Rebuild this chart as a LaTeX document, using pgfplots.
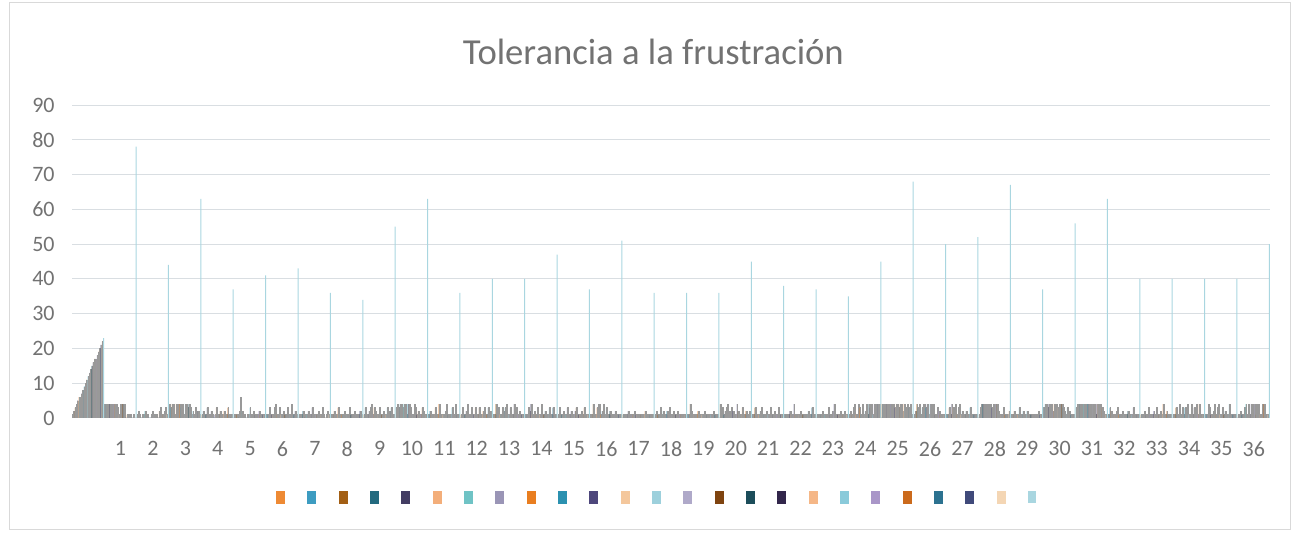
\documentclass[border=0pt]{standalone}
\usepackage{fontspec}
\setmainfont{Carlito}
\usepackage{pgfplots}
\usepackage{pgfplotstable}
\pgfplotsset{compat=1.18}
\definecolor{c1}{HTML}{EE8A34}
\definecolor{c2}{HTML}{3D9CC1}
\definecolor{c3}{HTML}{A35F14}
\definecolor{c4}{HTML}{236A7F}
\definecolor{c5}{HTML}{433D63}
\definecolor{c6}{HTML}{F3AE7A}
\definecolor{c7}{HTML}{6FC3C5}
\definecolor{c8}{HTML}{9A95B6}
\definecolor{c9}{HTML}{E97E20}
\definecolor{c10}{HTML}{2B91B0}
\definecolor{c11}{HTML}{4E477C}
\definecolor{c12}{HTML}{F4C79C}
\definecolor{c13}{HTML}{9DD0DC}
\definecolor{c14}{HTML}{AFA9C9}
\definecolor{c15}{HTML}{7F4410}
\definecolor{c16}{HTML}{1C4D5A}
\definecolor{c17}{HTML}{32264B}
\definecolor{c18}{HTML}{F5B787}
\definecolor{c19}{HTML}{8ACADA}
\definecolor{c20}{HTML}{A996C8}
\definecolor{c21}{HTML}{CB6A1C}
\definecolor{c22}{HTML}{2C7290}
\definecolor{c23}{HTML}{404A7A}
\definecolor{c24}{HTML}{F4D6B4}
\definecolor{c25}{HTML}{A9D6E0}
\definecolor{txtgray}{HTML}{595959}
\definecolor{gridgray}{HTML}{D9DEE2}
\pgfplotstableread{
x s1 s2 s3 s4 s5 s6 s7 s8 s9 s10 s11 s12 s13 s14 s15 s16 s17 s18 s19 s20 s21 s22 s23 s24 s25
0 1 2 3 4 5 6 6 7 8 9 10 11 12 13 14 15 16 17 17 18 19 20 21 22 23
1 4 4 1 4 4 3 4 4 4 4 3 1 4 4 4 4 0 1 1 0 1 0 1 0 78
2 1 2 1 0 1 1 2 1 1 0 0 1 2 1 1 1 0 2 3 1 1 2 3 1 44
3 4 3 4 4 1 4 4 4 4 3 4 1 4 4 3 4 3 1 2 1 3 2 2 1 63
4 1 2 1 1 3 1 1 2 1 0 1 3 1 1 2 1 1 2 1 1 3 1 0 1 37
5 1 1 1 0 2 6 2 1 1 0 1 1 3 1 1 2 1 1 1 2 1 1 1 1 41
6 1 1 3 1 1 1 3 4 1 1 3 1 1 2 1 1 3 1 1 4 1 1 2 1 43
7 1 1 1 2 0 1 1 2 1 1 3 1 1 1 1 2 1 1 3 1 0 1 2 1 36
8 1 1 2 1 1 3 1 1 1 1 2 1 1 1 3 1 1 1 2 1 1 1 2 1 34
9 1 3 1 1 2 3 4 1 3 2 1 1 3 1 1 2 1 1 3 1 2 3 1 1 55
10 3 4 3 4 4 3 4 4 1 4 4 3 1 1 4 3 1 2 1 1 3 2 1 1 63
11 1 2 1 1 1 3 1 1 4 1 1 1 1 2 4 1 1 1 3 1 1 4 1 1 36
12 1 3 1 1 2 4 1 1 3 1 1 3 1 1 3 1 1 2 3 1 1 3 1 2 40
13 1 1 4 1 3 1 1 3 2 3 4 1 1 3 1 1 4 1 3 1 2 1 1 1 40
14 1 1 3 2 4 1 1 2 1 3 1 1 4 1 1 2 1 1 3 1 1 3 1 1 47
15 1 3 1 1 2 1 1 3 1 1 2 1 1 2 3 1 1 1 2 1 3 1 1 1 37
16 1 1 4 1 1 3 4 4 1 2 4 1 3 1 1 2 1 1 1 2 1 1 1 1 51
17 1 1 1 1 2 1 1 1 1 2 1 1 1 1 1 1 1 2 1 1 1 1 1 1 36
18 1 2 1 1 3 1 2 1 1 2 1 3 1 1 2 1 1 2 1 1 1 1 1 1 36
19 1 1 4 2 1 1 1 1 2 1 1 1 1 2 1 1 1 1 1 1 2 1 1 1 36
20 4 2 3 1 2 3 4 2 1 3 2 1 1 4 2 1 1 3 1 1 2 1 1 2 45
21 1 1 3 1 1 1 2 3 1 1 1 2 1 1 3 1 1 2 1 1 3 1 1 1 38
22 1 1 1 1 2 1 1 4 1 1 1 1 2 1 1 1 1 1 2 1 1 3 1 1 37
23 1 1 1 1 2 1 1 1 1 3 1 1 2 4 1 1 1 1 2 1 1 2 1 1 35
24 1 2 1 3 4 1 1 4 3 1 4 1 2 4 1 4 3 4 1 4 4 4 4 4 45
25 4 4 3 4 4 2 4 4 4 4 3 4 4 3 4 4 2 4 3 1 4 3 4 1 68
26 1 2 4 3 4 1 3 4 4 3 4 1 4 4 2 4 1 1 3 2 1 1 1 1 50
27 1 1 3 1 4 3 1 4 1 3 4 1 2 1 1 2 1 1 3 1 1 1 1 1 52
28 1 3 4 4 4 3 4 4 4 4 3 4 4 4 4 2 1 1 1 3 1 1 1 2 67
29 1 1 2 1 1 1 3 1 1 2 1 1 2 1 1 1 1 1 1 1 1 2 1 1 37
30 3 4 4 3 4 4 4 2 4 4 4 3 4 4 4 3 2 1 3 1 2 1 1 1 56
31 3 4 4 4 1 4 4 3 4 4 4 3 4 4 4 1 4 4 3 4 3 2 1 1 63
32 1 3 2 1 1 1 2 3 1 1 1 2 1 1 1 2 1 1 1 3 1 1 1 1 40
33 1 1 1 2 1 1 3 1 1 1 2 1 3 1 1 2 1 4 1 1 2 1 1 1 40
34 1 1 3 1 1 4 1 3 1 3 1 4 1 1 4 1 3 1 4 1 4 1 1 1 40
35 1 1 4 3 1 1 2 4 1 3 4 1 1 3 1 2 1 1 4 1 1 1 1 1 40
36 1 1 2 1 1 3 4 1 4 1 4 1 4 4 1 4 4 1 1 4 4 1 1 1 50
}\data
\begin{document}
\begin{tikzpicture}
\useasboundingbox (0,0) rectangle (974.25pt,401.25pt);
\draw[gray!30, line width=0.75pt] (6.75pt,3.75pt) rectangle (967.5pt,399pt);
\node[text=txtgray!85, font=\fontsize{27.5}{32}\selectfont] at (490pt,362pt) {Tolerancia a la frustración};
\begin{axis}[
  at={(54pt,87.75pt)}, anchor=south west,
  scale only axis, width=898.5pt, height=234.75pt,
  xmin=-0.5, xmax=36.5, ymin=0, ymax=90,
  xtick={1,...,36}, ytick={0,10,...,90},
  major tick length=0pt,
  axis line style={draw=none},
  ymajorgrids, grid style={gridgray, line width=0.75pt},
  /pgf/number format/assume math mode=true,
  ticklabel style={text=txtgray!85, font=\fontsize{16.5}{19}\selectfont},
  yticklabel style={xshift=-9.5pt},
  xticklabel style={yshift=-14pt},
  legend columns=25,
  legend style={draw=none, fill=none, at={(axis description cs:0.488,-0.2524)}, anchor=center,
    nodes={inner sep=0pt},
    /tikz/every even column/.append style={column sep=16.4pt}},
]
\pgfplotsinvokeforeach{1,...,24}{
  \addplot[ybar, fill=c#1, draw=black!40, line width=0.1pt, bar width=0.7pt,
    bar shift={(#1-13)*0.9714pt},
    legend image code/.code={\fill[c#1] (0pt,-4.25pt) rectangle (6pt,4.25pt);}]
    table[x=x, y=s#1] {\data};
  \addlegendentry{\mbox{}}
}
\addplot[ybar, fill=c25, draw=none, bar width=0.75pt,
    bar shift={12*0.9714pt},
    legend image code/.code={\fill[c25] (0pt,-4.25pt) rectangle (6pt,4.25pt);}]
    table[x=x, y=s25] {\data};
\addlegendentry{\mbox{}}
\end{axis}
\end{tikzpicture}
\end{document}
